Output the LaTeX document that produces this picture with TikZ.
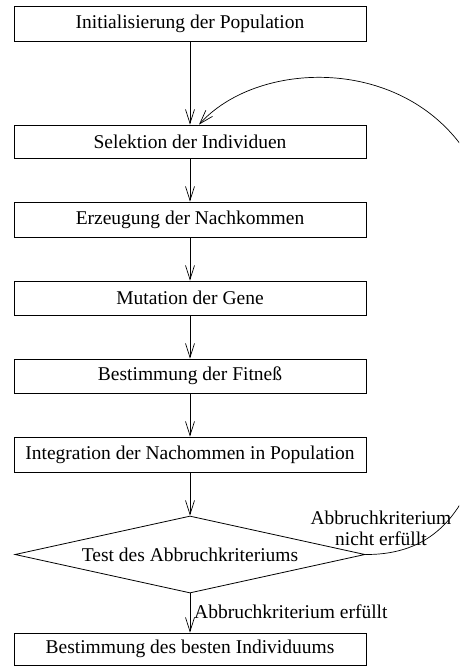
\documentclass[tikz,border=0pt]{standalone}
\usepackage{fontspec}
\setmainfont{Liberation Serif}
\usetikzlibrary{arrows.meta,shapes.geometric}
\begin{document}
\begin{tikzpicture}[x=1pt,y=-1pt,
  every node/.style={font=\fontsize{19.5}{21}\selectfont},
  box/.style={draw,line width=0.8pt,minimum width=352pt,minimum height=34pt,inner sep=0pt},
  test/.style={draw,diamond,shape aspect=4.55,line width=0.8pt,minimum width=350pt,minimum height=77pt,inner sep=0pt},
  flow/.style={line width=0.7pt,-{Straight Barb[length=14pt,width=9pt,line width=0.7pt]}},
  lbl/.style={inner sep=0pt}]
\useasboundingbox (0,0) rectangle (459,666);
\clip (0,0) rectangle (459,666);
\node[box,minimum height=35pt] (init) at (190,23.5) {Initialisierung der Population};
\node[box,minimum height=33pt] (sel) at (190,141.5) {Selektion der Individuen};
\node[box,minimum height=35pt] (erz) at (190,219.5) {Erzeugung der Nachkommen};
\node[box] (mut) at (190,298) {Mutation der Gene};
\node[box] (fit) at (190,376) {Bestimmung der Fitneß};
\node[box,minimum height=35pt] (integ) at (190,454.5) {Integration der Nachommen in Population};
\node[test] (test) at (190,554.5) {Test des Abbruchkriteriums};
\node[box,minimum height=32pt] (best) at (190,649) {Bestimmung des besten Individuums};
\coordinate (loopin) at ([xshift=9pt]sel.north);
\draw[flow] (init) -- (sel);
\draw[flow] (sel) -- (erz);
\draw[flow] (erz) -- (mut);
\draw[flow] (mut) -- (fit);
\draw[flow] (fit) -- (integ);
\draw[flow] (integ) -- (test);
\draw[flow] (test) -- (best);
\draw[flow] (test.east) .. controls (450,555) and (495,490) .. (495,320)
  .. controls (530,60) and (280,35) .. (loopin);
\node[lbl,anchor=base west] (yes) at (194,618) {Abbruchkriterium erfüllt};
\node[lbl,align=center,anchor=base] (no) at (381,545) {Abbruchkriterium\\nicht erfüllt};
\end{tikzpicture}
\end{document}
